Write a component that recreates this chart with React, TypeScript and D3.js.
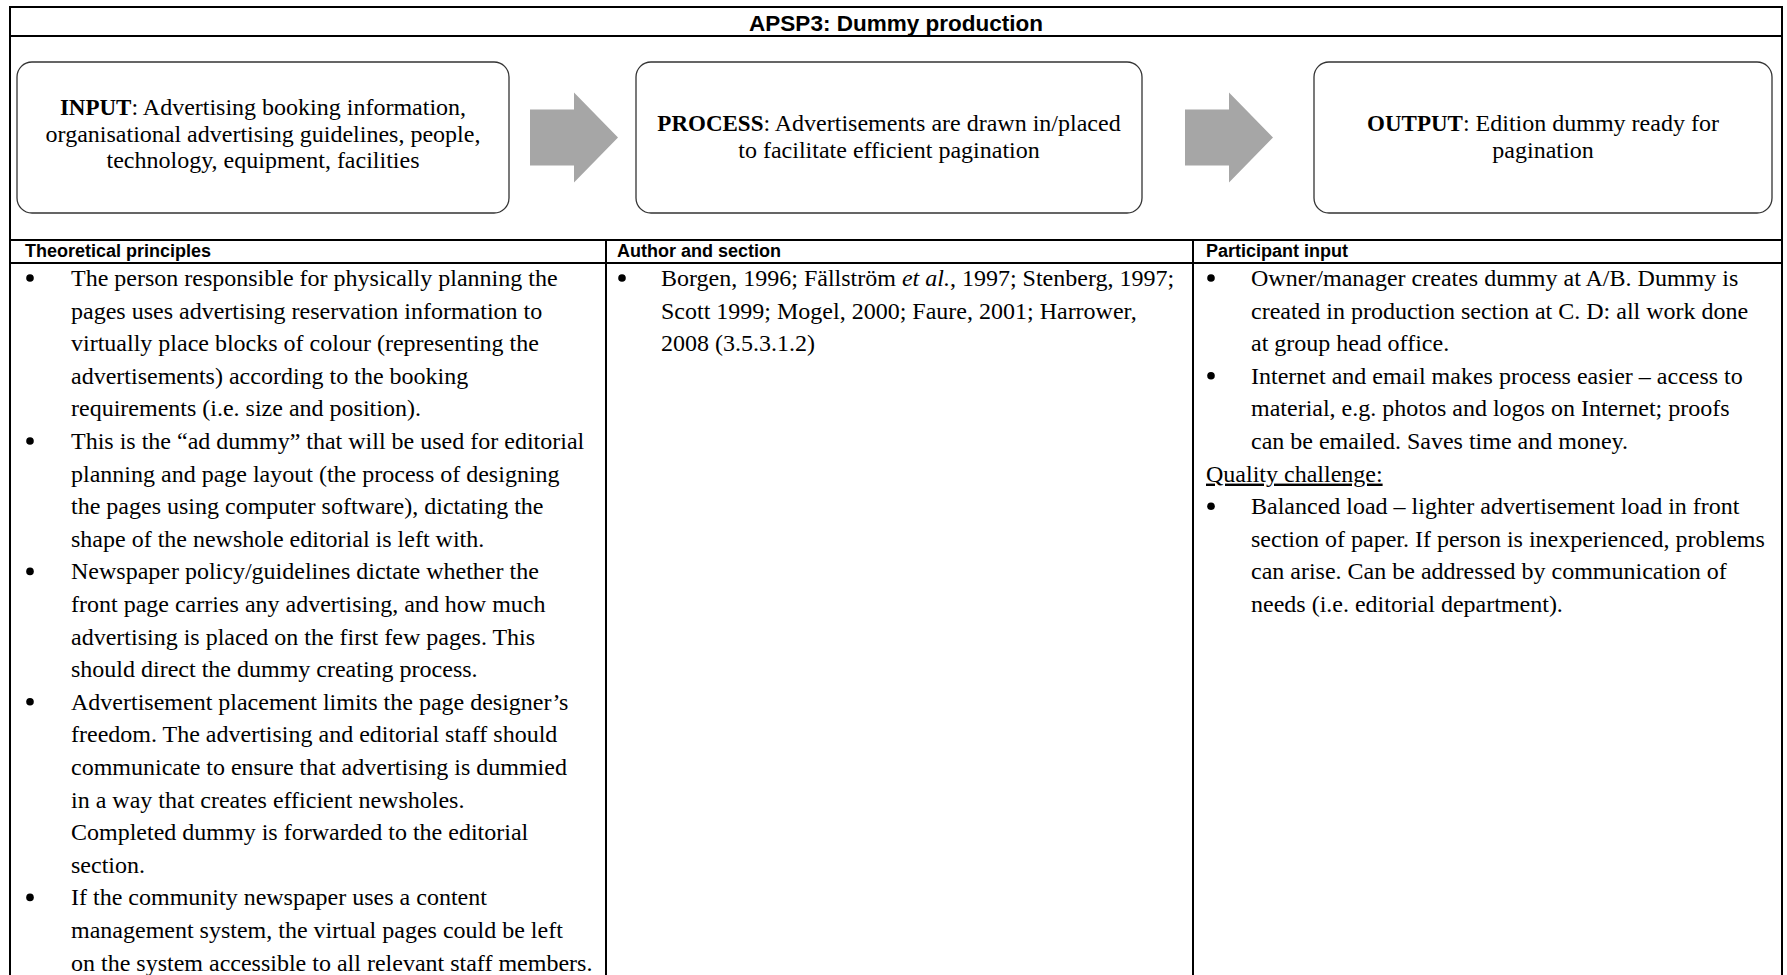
import React, { useRef, useEffect } from "react";
import * as d3 from "d3";

// ---- content ----
const title = "APSP3: Dummy production";

const flowLabels = ["INPUT", "PROCESS", "OUTPUT"];
const flowLines = [
  [
    ": Advertising booking information,",
    "organisational advertising guidelines, people,",
    "technology, equipment, facilities",
  ],
  [": Advertisements are drawn in/placed", "to facilitate efficient pagination"],
  [": Edition dummy ready for", "pagination"],
];

const columnHeaders = ["Theoretical principles", "Author and section", "Participant input"];

const theoreticalPrinciples = [
  [
    "The person responsible for physically planning the",
    "pages uses advertising reservation information to",
    "virtually place blocks of colour (representing the",
    "advertisements) according to the booking",
    "requirements (i.e. size and position).",
  ],
  [
    "This is the \u201cad dummy\u201d that will be used for editorial",
    "planning and page layout (the process of designing",
    "the pages using computer software), dictating the",
    "shape of the newshole editorial is left with.",
  ],
  [
    "Newspaper policy/guidelines dictate whether the",
    "front page carries any advertising, and how much",
    "advertising is placed on the first few pages. This",
    "should direct the dummy creating process.",
  ],
  [
    "Advertisement placement limits the page designer\u2019s",
    "freedom. The advertising and editorial staff should",
    "communicate to ensure that advertising is dummied",
    "in a way that creates efficient newsholes.",
    "Completed dummy is forwarded to the editorial",
    "section.",
  ],
  [
    "If the community newspaper uses a content",
    "management system, the virtual pages could be left",
    "on the system accessible to all relevant staff members.",
  ],
];

// text between underscores is set in italics
const authorSection = [
  [
    "Borgen, 1996; F\u00e4llstr\u00f6m _et al._, 1997; Stenberg, 1997;",
    "Scott 1999; Mogel, 2000; Faure, 2001; Harrower,",
    "2008 (3.5.3.1.2)",
  ],
];

const participantInput = [
  [
    "Owner/manager creates dummy at A/B. Dummy is",
    "created in production section at C. D: all work done",
    "at group head office.",
  ],
  [
    "Internet and email makes process easier \u2013 access to",
    "material, e.g. photos and logos on Internet; proofs",
    "can be emailed. Saves time and money.",
  ],
];

const qualityChallengeLabel = "Quality challenge:";
const qualityChallenge = [
  [
    "Balanced load \u2013 lighter advertisement load in front",
    "section of paper. If person is inexperienced, problems",
    "can arise. Can be addressed by communication of",
    "needs (i.e. editorial department).",
  ],
];

// ---- layout ----
const W = 1787;
const H = 975;
const SERIF = "'Liberation Serif', 'Times New Roman', serif";
const SANS = "'Liberation Sans', Arial, sans-serif";

const App = () => {
  const ref = useRef<SVGSVGElement>(null);

  useEffect(() => {
    const svg = d3.select(ref.current);
    svg.selectAll("*").remove();

    const table = { left: 10, right: 1782, top: 7, titleBottom: 36, flowBottom: 240, headerBottom: 263 };
    const colEdges = [table.left, 606, 1193, table.right];
    // per column: header x, bullet x, text x (offset from column edge)
    const colPad = [
      { head: 15, dot: 20, text: 61 },
      { head: 11, dot: 16, text: 55 },
      { head: 13, dot: 18, text: 58 },
    ];

    // outer frame + row rules
    const frame = svg.append("g").attr("stroke", "#000").attr("stroke-width", 2).attr("fill", "none");
    frame
      .append("rect")
      .attr("x", table.left)
      .attr("y", table.top)
      .attr("width", table.right - table.left)
      .attr("height", H + 20 - table.top);
    [table.titleBottom, table.flowBottom, table.headerBottom].forEach((y) => {
      frame.append("line").attr("x1", table.left).attr("x2", table.right).attr("y1", y).attr("y2", y);
    });
    colEdges.slice(1, 3).forEach((x) => {
      frame.append("line").attr("x1", x).attr("x2", x).attr("y1", table.flowBottom).attr("y2", H + 20);
    });

    // title
    svg
      .append("text")
      .attr("x", (table.left + table.right) / 2)
      .attr("y", 31)
      .attr("text-anchor", "middle")
      .attr("font-family", SANS)
      .attr("font-weight", "bold")
      .attr("font-size", 22.5)
      .text(title);

    // flow boxes + arrows
    const boxes = [
      [17, 509],
      [636, 1142],
      [1314, 1772],
    ];
    const boxTop = 62;
    const boxBottom = 213;
    const cy = (boxTop + boxBottom) / 2;
    const boxFont = 24;
    const boxLine = 26.5;

    boxes.forEach(([x0, x1], i) => {
      svg
        .append("rect")
        .attr("x", x0)
        .attr("y", boxTop)
        .attr("width", x1 - x0)
        .attr("height", boxBottom - boxTop)
        .attr("rx", 15)
        .attr("fill", "#fff")
        .attr("stroke", "#333")
        .attr("stroke-width", 1.3);

      const lines = flowLines[i];
      const ly = d3
        .scaleLinear()
        .domain([0, lines.length - 1])
        .range([cy - ((lines.length - 1) * boxLine) / 2, cy + ((lines.length - 1) * boxLine) / 2]);

      lines.forEach((ln, j) => {
        const t = svg
          .append("text")
          .attr("x", (x0 + x1) / 2)
          .attr("y", ly(j) + boxFont * 0.3 - (lines.length > 2 ? 3 : 0))
          .attr("text-anchor", "middle")
          .attr("font-family", SERIF)
          .attr("font-size", boxFont)
          .attr("fill", "#000");
        if (j === 0) t.append("tspan").attr("font-weight", "bold").attr("font-size", 23).text(flowLabels[i]);
        t.append("tspan").text(ln);
      });
    });

    // grey block arrows between the boxes
    const arrowStarts = [530, 1185];
    arrowStarts.forEach((ax) => {
      const pts: [number, number][] = [
        [ax, cy - 28],
        [ax + 44, cy - 28],
        [ax + 44, cy - 45],
        [ax + 88, cy],
        [ax + 44, cy + 45],
        [ax + 44, cy + 28],
        [ax, cy + 28],
      ];
      svg
        .append("path")
        .attr("d", d3.line()(pts) + "Z")
        .attr("fill", "#a6a6a6");
    });

    // column headers
    columnHeaders.forEach((h, i) => {
      svg
        .append("text")
        .attr("x", colEdges[i] + colPad[i].head)
        .attr("y", table.headerBottom - 6)
        .attr("font-family", SANS)
        .attr("font-weight", "bold")
        .attr("font-size", 18)
        .text(h);
    });

    // body text
    const bodyFont = 24;
    const lineY = d3.scaleLinear().domain([0, 1]).range([286, 318.6]);

    const writeLine = (x: number, y: number, s: string, underline = false) => {
      const t = svg
        .append("text")
        .attr("x", x)
        .attr("y", y)
        .attr("font-family", SERIF)
        .attr("font-size", bodyFont)
        .attr("fill", "#000");
      if (underline) t.attr("text-decoration", "underline");
      s.split("_").forEach((seg, k) => {
        if (!seg) return;
        const sp = t.append("tspan").text(seg);
        if (k % 2 === 1) sp.attr("font-style", "italic");
      });
    };

    const writeBullets = (col: number, items: string[][], start: number) => {
      let row = start;
      items.forEach((lines) => {
        svg
          .append("circle")
          .attr("cx", colEdges[col] + colPad[col].dot)
          .attr("cy", lineY(row) - 8)
          .attr("r", 3.8)
          .attr("fill", "#000");
        lines.forEach((ln) => {
          writeLine(colEdges[col] + colPad[col].text, lineY(row), ln);
          row += 1;
        });
      });
      return row;
    };

    writeBullets(0, theoreticalPrinciples, 0);
    writeBullets(1, authorSection, 0);
    let r = writeBullets(2, participantInput, 0);
    writeLine(colEdges[2] + colPad[2].head, lineY(r), qualityChallengeLabel, true);
    r += 1;
    writeBullets(2, qualityChallenge, r);
  }, []);

  return (
    <svg
      ref={ref}
      width={W}
      height={H}
      viewBox={`0 0 ${W} ${H}`}
      style={{ position: "absolute", left: 0, top: 0, background: "#fff" }}
    />
  );
};

export default App;
